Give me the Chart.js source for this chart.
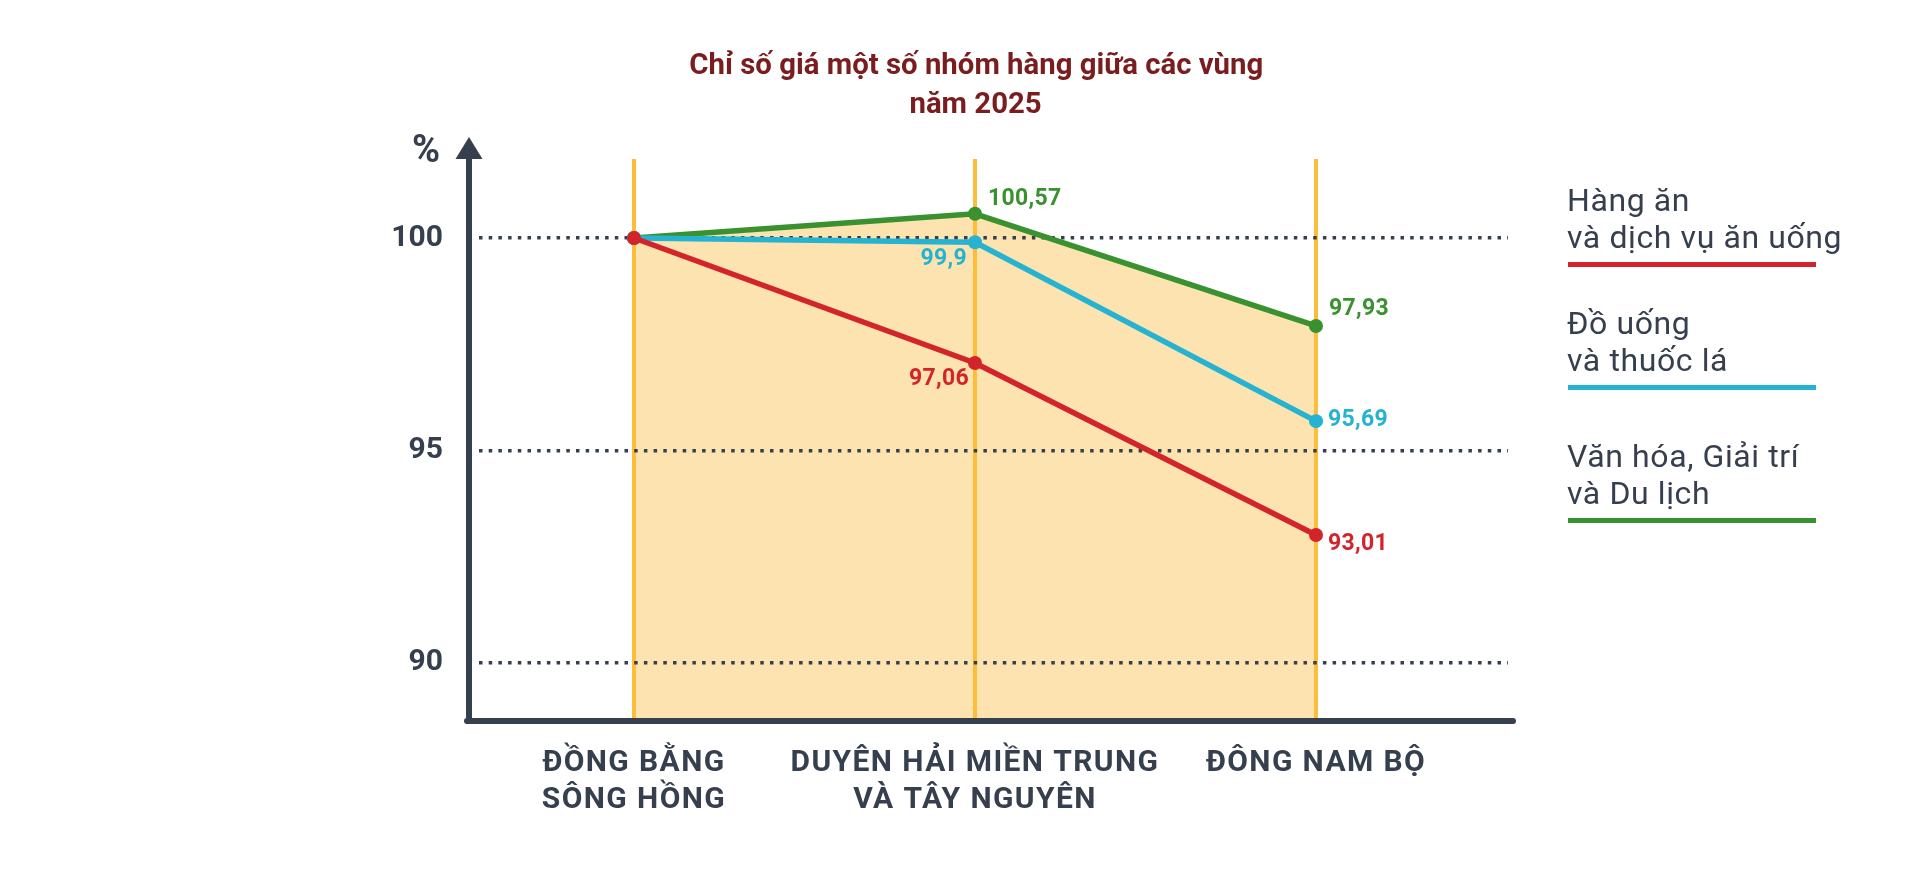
<!DOCTYPE html>
<html>
<head>
<meta charset="utf-8">
<script src="https://cdn.jsdelivr.net/npm/chart.js@4.4.1/dist/chart.umd.min.js"></script>
<style>
  html, body { margin: 0; padding: 0; background: #ffffff; width: 1920px; height: 869px; overflow: hidden; }
  #wrap { position: relative; width: 1920px; height: 869px; }
  #c { position: absolute; left: 0; top: 0; }
  .title { position: absolute; left: 476px; top: 44px; width: 1000px; text-align: center;
           font-family: Roboto, "Noto Sans", sans-serif; font-weight: 700; font-size: 30px; line-height: 39px; color: #7a1d1f; }
  .title span { display: inline-block; transform-origin: 50% 50%; white-space: nowrap; }
  .pct { position: absolute; left: 412px; top: 128px; font-family: Roboto, sans-serif; font-weight: 700; font-size: 38px; line-height: 42px; color: #363f4d; }
  .lg { position: absolute; left: 1567px; font-family: Roboto, "Noto Sans", sans-serif; font-size: 32px; line-height: 37px; letter-spacing: 0.6px; color: #363f4d; white-space: nowrap; }
  .lg .bar { position: absolute; left: 1px; width: 248px; height: 5px; }
</style>
</head>
<body>
<div id="wrap">
  <canvas id="c" width="1920" height="869"></canvas>
  <div class="title" id="title"></div>
  <div class="pct">%</div>
  <div id="legend"></div>
</div>
<script>
// ---- data ----
const titleLines = ['Chỉ số giá một số nhóm hàng giữa các vùng', 'năm 2025'];
const categories = [['ĐỒNG BẰNG', 'SÔNG HỒNG'], ['DUYÊN HẢI MIỀN TRUNG', 'VÀ TÂY NGUYÊN'], ['ĐÔNG NAM BỘ']];
const seriesNames = [['Hàng ăn', 'và dịch vụ ăn uống'], ['Đồ uống', 'và thuốc lá'], ['Văn hóa, Giải trí', 'và Du lịch']];
const foodValues = [100, 97.06, 93.01];
const drinkValues = [100, 99.9, 95.69];
const cultureValues = [100, 100.57, 97.93];
const yTicks = [90, 95, 100];

// ---- styles ----
const colors = ['#d2252b', '#25b3d1', '#3a912f'];
const dark = '#363f4d';
const orange = '#fdbd3a';
const fillColor = '#fde3b0';

// title
const tEl = document.getElementById('title');
titleLines.forEach((t, i) => {
  const s = document.createElement('span');
  s.textContent = t;
  tEl.appendChild(s);
  if (i < titleLines.length - 1) tEl.appendChild(document.createElement('br'));
});
const firstSpan = tEl.querySelector('span');
const w = firstSpan.getBoundingClientRect().width;
const sx = 574 / w;
tEl.querySelectorAll('span').forEach(s => s.style.transform = 'scaleX(' + sx + ')');

// legend
const legendTops = [182, 305, 438];
const barOffset = 82; // bar centre below group top
const lgEl = document.getElementById('legend');
seriesNames.forEach((lines, i) => {
  const d = document.createElement('div');
  d.className = 'lg';
  d.style.top = legendTops[i] + 'px';
  d.innerHTML = lines.join('<br>');
  const b = document.createElement('div');
  b.className = 'bar';
  b.style.top = (barOffset - 2.5) + 'px';
  b.style.background = colors[i];
  d.appendChild(b);
  lgEl.appendChild(d);
});

const toPts = arr => arr.map((v, i) => ({ x: i, y: v }));
const fmt = v => String(v).replace('.', ',');

// label placement per series for points 1 and 2: [dx, dy, align]
const labelPlace = [
  [null, [-6, 22, 'right'], [12, 15, 'left']],
  [null, [-8, 23, 'right'], [12, 5, 'left']],
  [null, [13, -9, 'left'], [13, -11, 'left']]
];

const axesPlugin = {
  id: 'axesDraw',
  afterDraw(chart) {
    const ctx = chart.ctx;
    const a = chart.chartArea;
    const ax = a.left - 10;
    const by = a.bottom;
    ctx.save();
    ctx.strokeStyle = dark;
    ctx.fillStyle = dark;
    ctx.lineWidth = 6;
    ctx.lineCap = 'round';
    ctx.beginPath();
    ctx.moveTo(ax - 2, by);
    ctx.lineTo(a.right + 5, by);
    ctx.stroke();
    ctx.lineCap = 'butt';
    ctx.beginPath();
    ctx.moveTo(ax, by + 3);
    ctx.lineTo(ax, a.top - 2);
    ctx.stroke();
    ctx.beginPath();
    ctx.moveTo(ax, a.top - 22);
    ctx.lineTo(ax - 13.5, a.top);
    ctx.lineTo(ax + 13.5, a.top);
    ctx.closePath();
    ctx.fill();
    ctx.restore();
  }
};

const labelPlugin = {
  id: 'valueLabels',
  afterDatasetsDraw(chart) {
    const ctx = chart.ctx;
    ctx.save();
    ctx.font = '700 23px Roboto, sans-serif';
    ctx.letterSpacing = '0.3px';
    ctx.textBaseline = 'alphabetic';
    chart.data.datasets.forEach((ds, di) => {
      const meta = chart.getDatasetMeta(di);
      meta.data.forEach((pt, i) => {
        const p = labelPlace[di][i];
        if (!p) return;
        ctx.fillStyle = colors[di];
        ctx.textAlign = p[2];
        ctx.fillText(fmt(ds.data[i].y), pt.x + p[0], pt.y + p[1]);
      });
    });
    ctx.restore();
  }
};

const mk = (vals, i, extra) => Object.assign({
  data: toPts(vals),
  borderColor: colors[i],
  backgroundColor: colors[i],
  pointBackgroundColor: colors[i],
  pointBorderWidth: 0,
  pointRadius: 7,
  borderWidth: 5.5,
  fill: false,
  tension: 0
}, extra || {});

function patchSpacing(s, spacing) {
  if (s._spacingPatched) return;
  const orig = s.drawLabels;
  s.drawLabels = function (area) {
    const c = this.ctx;
    const prev = c.letterSpacing;
    c.letterSpacing = spacing;
    orig.call(this, area);
    c.letterSpacing = prev;
  };
  s._spacingPatched = true;
}

new Chart(document.getElementById('c'), {
  type: 'line',
  data: {
    datasets: [
      mk(foodValues, 0),
      mk(drinkValues, 1),
      mk(cultureValues, 2, { fill: 'start', backgroundColor: fillColor })
    ]
  },
  options: {
    responsive: false,
    animation: false,
    devicePixelRatio: 1,
    layout: { padding: { left: 379, right: 412, top: 159, bottom: 48 } },
    plugins: {
      legend: { display: false },
      tooltip: { enabled: false },
      title: { display: false },
      filler: { drawTime: 'beforeDraw' }
    },
    scales: {
      x: {
        type: 'linear',
        min: -0.4545,
        max: 2.563,
        afterBuildTicks: s => { s.ticks = categories.map((_, i) => ({ value: i })); },
        afterFit: s => { s.height = 100; patchSpacing(s, '1.4px'); },
        border: { display: false },
        grid: { color: orange, lineWidth: 4, drawTicks: false },
        ticks: {
          autoSkip: false, maxRotation: 0, padding: 24,
          color: dark,
          font: { family: 'Roboto, sans-serif', weight: '700', size: 30, lineHeight: 1.24 },
          callback: v => categories[v]
        }
      },
      y: {
        type: 'linear',
        min: 88.635,
        max: 101.859,
        afterBuildTicks: s => { s.ticks = yTicks.map(v => ({ value: v })); },
        afterFit: s => { s.width = 100; },
        border: { display: false, dash: [3.5, 6.2] },
        grid: { color: dark, lineWidth: 3.5, drawTicks: false },
        ticks: {
          padding: 36,
          color: dark,
          font: { family: 'Roboto, sans-serif', weight: '700', size: 30 }
        }
      }
    }
  },
  plugins: [axesPlugin, labelPlugin]
});
</script>
</body>
</html>
